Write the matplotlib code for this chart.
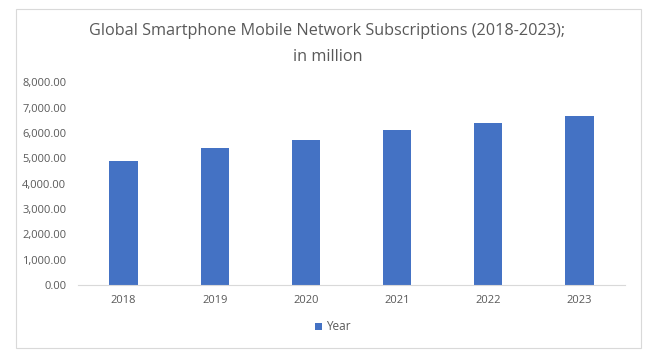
import matplotlib
matplotlib.use("Agg")
import matplotlib.pyplot as plt
from matplotlib.patches import Rectangle

# data (million subscriptions)
years = ["2018", "2019", "2020", "2021", "2022", "2023"]
subscriptions = [4900, 5410, 5730, 6130, 6400, 6680]
yticks = [0, 1000, 2000, 3000, 4000, 5000, 6000, 7000, 8000]

bar_color = "#4472C4"
text_color = "#595959"

plt.rcParams["font.family"] = ["Open Sans", "DejaVu Sans"]

fig = plt.figure(figsize=(6.55, 3.58), dpi=100)
W, H = 655, 358

# outer chart frame like excel
fig.patches.append(Rectangle((15.5 / W, 1 - 347.5 / H), 625 / W, 339 / H,
                             transform=fig.transFigure, fill=False,
                             edgecolor="#D9D9D9", linewidth=0.8))

ax = fig.add_axes([78 / W, 1 - 285 / H, 547 / W, (285 - 82.3) / H])
ax.bar(range(len(years)), subscriptions, width=0.31, color=bar_color, label="Year")

ax.set_xlim(-0.5, len(years) - 0.5)
ax.set_ylim(0, 8000)
ax.set_yticks(yticks)
ax.set_yticklabels([f"{v:,.2f}" for v in yticks])
ax.set_xticks(range(len(years)))
ax.set_xticklabels(years)

for s in ["top", "right", "left"]:
    ax.spines[s].set_visible(False)
ax.spines["bottom"].set_color("#D9D9D9")
ax.tick_params(axis="both", length=0, labelsize=8, colors=text_color)
ax.tick_params(axis="y", pad=8.5)
ax.tick_params(axis="x", pad=7)

fig.text(0.5, 1 - 31 / H, "Global Smartphone Mobile Network Subscriptions (2018-2023);",
         ha="center", va="center", fontsize=11.7, color=text_color)
fig.text(0.5, 1 - 57 / H, "in million", ha="center", va="center",
         fontsize=11.7, color=text_color)

leg = fig.legend(loc="center", bbox_to_anchor=(333 / W, 1 - 327 / H), frameon=False,
                 fontsize=8.5, handlelength=0.6, handleheight=0.6, handletextpad=0.3)
for t in leg.get_texts():
    t.set_color(text_color)

fig.savefig("out.png", dpi=100)
